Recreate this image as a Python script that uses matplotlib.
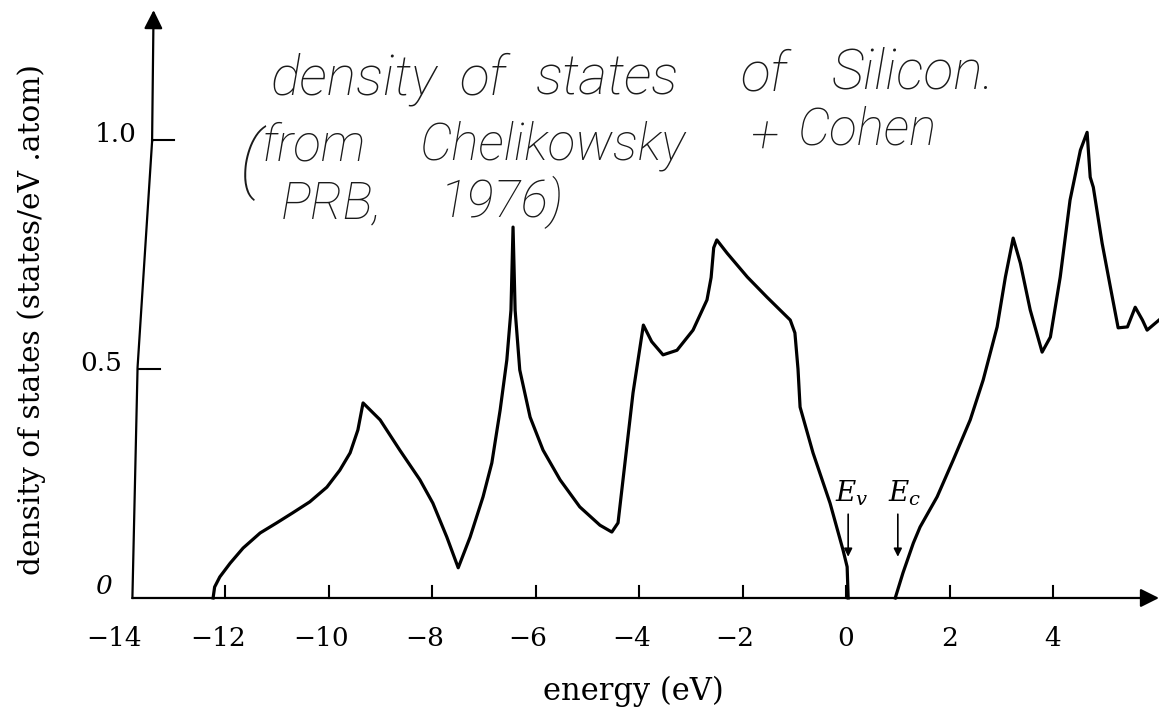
import matplotlib.pyplot as plt

# silicon DOS (energy in eV, states/eV atom)
valence_e = [-12.24, -12.21, -12.11, -11.91, -11.66, -11.33, -11.01, -10.70, -10.37, -10.04,
             -9.79, -9.59, -9.44, -9.34, -9.01, -8.63, -8.24, -7.99, -7.72, -7.50,
             -7.27, -7.02, -6.85, -6.69, -6.56, -6.48, -6.44, -6.40, -6.31, -6.11,
             -5.86, -5.53, -5.15, -4.76, -4.53, -4.41, -4.27, -4.12, -3.92, -3.76,
             -3.54, -3.27, -2.96, -2.69, -2.61, -2.56, -2.50, -2.30, -1.91, -1.53,
             -1.08, -0.99, -0.93, -0.89, -0.64, -0.31, -0.06, 0.02, 0.04]
valence_dos = [0.0, 0.024, 0.046, 0.076, 0.109, 0.142, 0.164, 0.186, 0.210, 0.242,
               0.279, 0.317, 0.367, 0.426, 0.389, 0.323, 0.258, 0.207, 0.133, 0.066,
               0.133, 0.221, 0.295, 0.410, 0.520, 0.629, 0.810, 0.629, 0.498, 0.395,
               0.323, 0.258, 0.199, 0.159, 0.144, 0.164, 0.301, 0.448, 0.596, 0.560,
               0.531, 0.541, 0.585, 0.651, 0.700, 0.765, 0.782, 0.753, 0.701, 0.657,
               0.607, 0.579, 0.500, 0.417, 0.317, 0.207, 0.105, 0.068, 0.0]

conduction_e = [0.95, 1.10, 1.30, 1.43, 1.76, 2.07, 2.40, 2.65, 2.92, 3.08,
                3.23, 3.37, 3.56, 3.79, 3.95, 4.14, 4.33, 4.53, 4.66, 4.72,
                4.78, 4.95, 5.11, 5.26, 5.44, 5.59, 5.73, 5.82, 6.05]
conduction_dos = [0.0, 0.055, 0.120, 0.155, 0.221, 0.301, 0.389, 0.476, 0.592, 0.701,
                  0.786, 0.731, 0.629, 0.537, 0.570, 0.701, 0.869, 0.978, 1.017, 0.919,
                  0.897, 0.775, 0.679, 0.590, 0.592, 0.635, 0.607, 0.585, 0.607]

xtick_vals = [-14, -12, -10, -8, -6, -4, -2, 0, 2, 4]
xtick_labels = ['\u221214', '\u221212', '\u221210', '\u22128', '\u22126',
                '\u22124', '\u22122', '0', '2', '4']
ytick_vals = [0, 0.5, 1.0]
ytick_labels = ['0', '0.5', '1.0']

# handwritten note, word by word: text, left x, baseline y, size
note_words = ['density', 'of', 'states', 'of', 'Silicon.',
              '(', 'from', 'Chelikowsky', '+', 'Cohen',
              'PRB,', '1976)']
note_x = [-11.12, -7.47, -6.00, -2.05, -0.27,
          -11.72, -11.30, -8.26, -1.86, -0.95,
          -10.93, -7.85]
note_y = [1.100, 1.100, 1.100, 1.108, 1.112,
          0.905, 0.955, 0.958, 0.972, 0.990,
          0.828, 0.832]
note_size = [40, 40, 40, 40, 40,
             54, 37, 37, 37, 37,
             37, 37]

plt.rcParams['mathtext.fontset'] = 'dejavuserif'
serif = 'DejaVu Serif'

fig = plt.figure(figsize=(11.59, 7.12), dpi=100)
ax = fig.add_axes([0, 0, 1, 1])
ax.set_xlim(-16.36, 6.05)
ax.set_ylim(-0.249, 1.306)
ax.axis('off')

# hand-drawn looking axes
x0 = -13.8
ax.plot([x0, -13.70, -13.42], [0, 0.504, 0.996], color='k', lw=1.6)
ax.annotate('', xy=(-13.39, 1.29), xytext=(-13.42, 0.99),
            arrowprops=dict(arrowstyle='-|>', color='k', lw=1.6, mutation_scale=28))
ax.annotate('', xy=(6.05, 0), xytext=(x0, 0),
            arrowprops=dict(arrowstyle='-|>', color='k', lw=1.6, mutation_scale=28,
                            shrinkA=0, shrinkB=0))

for xv, lab in zip(xtick_vals, xtick_labels):
    if xv != -14:
        ax.plot([xv, xv], [0, 0.027], color='k', lw=1.5)
    shift = -0.15 if xv < 0 else 0
    ax.text(xv + shift, -0.088, lab, ha='center', va='center', fontsize=19, family=serif)

axis_x = {0: x0, 0.5: -13.70, 1.0: -13.42}
for yv, lab in zip(ytick_vals, ytick_labels):
    if yv != 0:
        ax.plot([axis_x[yv], axis_x[yv] + 0.43], [yv, yv], color='k', lw=1.5)
        ax.text(axis_x[yv] - 0.3, yv + 0.012, lab, ha='right', va='center',
                fontsize=19, family=serif)
    else:
        ax.text(-14.2, 0.024, lab, ha='right', va='center', fontsize=19,
                family=serif, style='italic')

ax.text(-4.12, -0.205, 'energy (eV)', ha='center', va='center', fontsize=22, family=serif)
ax.text(-15.74, 0.609, 'density of states (states/eV .atom)', ha='center', va='center',
        rotation=90, fontsize=21.3, family=serif)

# the curve
ax.plot(valence_e, valence_dos, color='k', lw=2.3, solid_joinstyle='round')
ax.plot(conduction_e, conduction_dos, color='k', lw=2.3, solid_joinstyle='round')

# band edges
ax.text(0.1, 0.229, r'$E_v$', ha='center', va='center', fontsize=20)
ax.text(1.13, 0.229, r'$E_c$', ha='center', va='center', fontsize=20)
for xe in [0.04, 1.0]:
    ax.annotate('', xy=(xe, 0.09), xytext=(xe, 0.183),
                arrowprops=dict(arrowstyle='-|>', color='k', lw=1.2, mutation_scale=12,
                                shrinkA=0, shrinkB=0))

hand = dict(family='Roboto', style='italic', fontweight='light',
            ha='left', va='baseline', color='#1a1a1a')
for word, wx, wy, size in zip(note_words, note_x, note_y, note_size):
    ax.text(wx, wy, word, fontsize=size, **hand)

fig.savefig('out.png', dpi=100)
